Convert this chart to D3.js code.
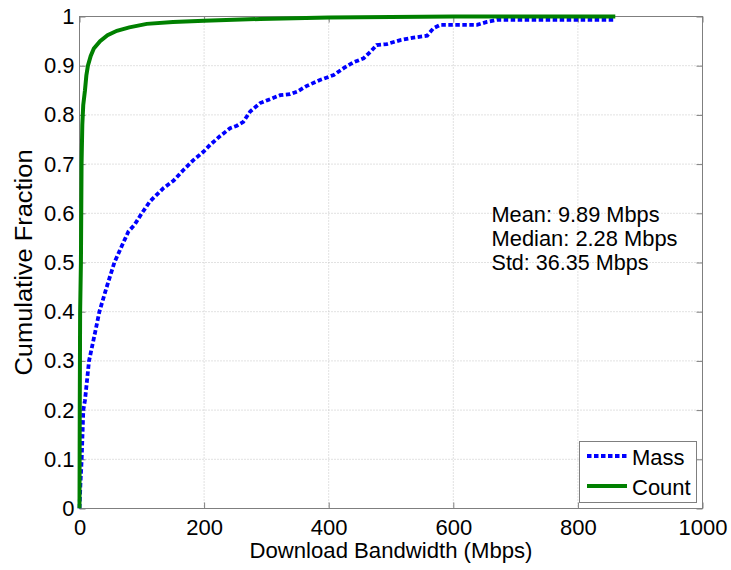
<!DOCTYPE html>
<html>
<head>
<meta charset="utf-8">
<script src="https://cdn.jsdelivr.net/npm/d3@7"></script>
<style>
  html, body { margin: 0; padding: 0; background: #fff; }
  svg { display: block; }
  text { font-family: "Liberation Sans", Arial, Helvetica, sans-serif; fill: #000; }
</style>
</head>
<body>
<svg id="chart" width="731" height="570"></svg>
<script>
// ---- data ----
const xTicks = [0, 200, 400, 600, 800, 1000];
const yTicks = [0, 0.1, 0.2, 0.3, 0.4, 0.5, 0.6, 0.7, 0.8, 0.9, 1];
const yTickLabels = ["0", "0.1", "0.2", "0.3", "0.4", "0.5", "0.6", "0.7", "0.8", "0.9", "1"];

// Mass CDF: [bandwidth Mbps, cumulative fraction]
const massX = [0, 1.5, 3.5, 6.1, 8.8, 15.3, 24.9, 31.9, 43.6, 56, 67.7, 78.5, 88, 100, 113, 134.6, 150.7,
  166.8, 182.8, 198.9, 209.6, 225.7, 241.8, 252.5, 263, 274, 290, 306, 322, 338, 349, 365, 386, 408,
  424, 440, 456, 466.7, 477, 493.5, 515, 536, 558, 568, 579, 638, 654, 670, 860];
const massY = [0, 0.05, 0.1, 0.2, 0.22, 0.3, 0.357, 0.4, 0.45, 0.5, 0.533, 0.563, 0.576, 0.6, 0.624, 0.651, 0.666,
  0.688, 0.708, 0.725, 0.739, 0.757, 0.773, 0.778, 0.786, 0.807, 0.824, 0.832, 0.84, 0.842, 0.847, 0.859, 0.871, 0.881,
  0.895, 0.907, 0.915, 0.928, 0.942, 0.944, 0.952, 0.957, 0.961, 0.976, 0.983, 0.983, 0.989, 0.993, 0.993];

// Count CDF
const countX = [0, 0.4, 1.0, 2.28, 2.8, 3.3, 4.5, 6, 8.8, 11, 13.5, 18, 23, 33, 45, 60, 80, 108, 150, 200, 290, 400, 500, 600, 860];
const countY = [0, 0.2, 0.4, 0.5, 0.6, 0.7, 0.78, 0.82, 0.85, 0.88, 0.9, 0.92, 0.935, 0.95, 0.962, 0.971, 0.978, 0.985, 0.989, 0.9915, 0.995, 0.998, 0.999, 1, 1];

const seriesNames = ["Mass", "Count"];
const seriesColors = ["#0000ff", "#008000"];
const statLines = ["Mean: 9.89 Mbps", "Median: 2.28 Mbps", "Std: 36.35 Mbps"];
const xTitle = "Download Bandwidth (Mbps)";
const yTitle = "Cumulative Fraction";

// ---- layout ----
const L = 79.5, R = 702.5, T = 16.5, B = 508.5;
const svg = d3.select("#chart");
const x = d3.scaleLinear().domain([0, 1000]).range([L, R]);
const y = d3.scaleLinear().domain([0, 1]).range([B, T]);
const axisColor = "#7f7f7f";
const fontSize = 22;

// grid
const grid = svg.append("g");
grid.selectAll("line.vx").data(xTicks.slice(1, -1)).join("line")
  .attr("x1", d => x(d)).attr("x2", d => x(d)).attr("y1", T).attr("y2", B)
  .attr("stroke", "#c4c4c4").attr("stroke-width", 1).attr("stroke-dasharray", "1,2");
grid.selectAll("line.hy").data(yTicks.slice(1, -1)).join("line")
  .attr("x1", L).attr("x2", R).attr("y1", d => y(d)).attr("y2", d => y(d))
  .attr("stroke", "#c4c4c4").attr("stroke-width", 1).attr("stroke-dasharray", "1,2");

// axes
function styleAxis(g) {
  g.select(".domain").remove();
  g.selectAll(".tick line").attr("stroke", axisColor);
  g.selectAll(".tick text").attr("font-size", fontSize).attr("fill", "#000")
    .attr("font-family", "Liberation Sans, Arial, sans-serif");
}
svg.append("g").attr("transform", `translate(0,${B})`)
  .call(d3.axisBottom(x).tickValues(xTicks).tickFormat(d3.format("d")).tickSizeInner(-6).tickSizeOuter(0).tickPadding(11))
  .call(styleAxis);
svg.append("g").attr("transform", `translate(${L},0)`)
  .call(d3.axisLeft(y).tickValues(yTicks).tickFormat((d, i) => yTickLabels[i]).tickSizeInner(-6).tickSizeOuter(0).tickPadding(5))
  .call(styleAxis);
svg.append("g").attr("transform", `translate(0,${T})`)
  .call(d3.axisTop(x).tickValues(xTicks).tickFormat("").tickSizeInner(-6).tickSizeOuter(0))
  .call(styleAxis);
svg.append("g").attr("transform", `translate(${R},0)`)
  .call(d3.axisRight(y).tickValues(yTicks).tickFormat("").tickSizeInner(-6).tickSizeOuter(0))
  .call(styleAxis);

svg.append("rect").attr("x", L).attr("y", T).attr("width", R - L).attr("height", B - T)
  .attr("fill", "none").attr("stroke", axisColor).attr("stroke-width", 1);

// lines
const line = d3.line().x(d => x(d[0])).y(d => y(d[1]));
const massData = massX.map((v, i) => [v, massY[i]]);
const countData = countX.map((v, i) => [v, countY[i]]);
const clip = svg.append("clipPath").attr("id", "clip").append("rect")
  .attr("x", L - 3).attr("y", T - 3).attr("width", R - L + 6).attr("height", B - T + 3);
const plot = svg.append("g").attr("clip-path", "url(#clip)");
plot.append("path").datum(massData).attr("d", line).attr("fill", "none")
  .attr("stroke", seriesColors[0]).attr("stroke-width", 3.8).attr("stroke-dasharray", "4.5,2.5");
plot.append("path").datum(countData).attr("d", line).attr("fill", "none")
  .attr("stroke", seriesColors[1]).attr("stroke-width", 4);

// stats text
const statLengths = [168, 186, 157];
svg.append("g").selectAll("text").data(statLines).join("text")
  .attr("x", 491.5).attr("y", (d, i) => 222 + i * 24.2)
  .attr("font-size", 22).attr("textLength", (d, i) => statLengths[i]).attr("lengthAdjust", "spacingAndGlyphs")
  .text(d => d);

// axis titles
svg.append("text").attr("x", (L + R) / 2).attr("y", 558).attr("text-anchor", "middle")
  .attr("font-size", 22).attr("textLength", 283).attr("lengthAdjust", "spacingAndGlyphs").text(xTitle);
svg.append("text").attr("transform", `translate(31.5,${(T + B) / 2}) rotate(-90)`)
  .attr("text-anchor", "middle").attr("font-size", 23.5).attr("textLength", 226).attr("lengthAdjust", "spacingAndGlyphs").text(yTitle);

// legend
const lg = svg.append("g");
lg.append("rect").attr("x", 579.5).attr("y", 441.5).attr("width", 117).attr("height", 61)
  .attr("fill", "#fff").attr("stroke", axisColor).attr("stroke-width", 1);
const legRows = [456, 486];
seriesNames.forEach((name, i) => {
  lg.append("line").attr("x1", 587).attr("x2", 627).attr("y1", legRows[i]).attr("y2", legRows[i])
    .attr("stroke", seriesColors[i]).attr("stroke-width", i === 0 ? 3.8 : 4)
    .attr("stroke-dasharray", i === 0 ? "4.5,2.5" : null);
  lg.append("text").attr("x", 632).attr("y", legRows[i] + 8.5).attr("font-size", 22).text(name);
});
</script>
</body>
</html>
